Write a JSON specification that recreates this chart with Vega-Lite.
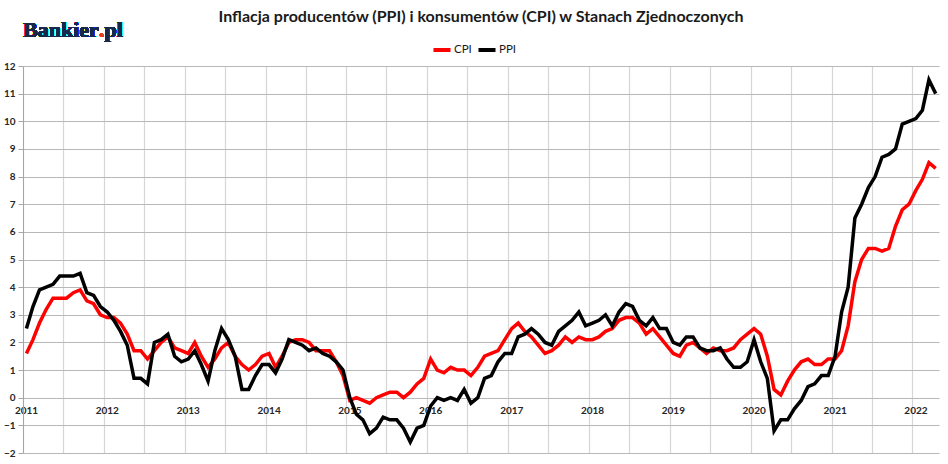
{
  "$schema": "https://vega.github.io/schema/vega-lite/v6.json",
  "width": 916,
  "height": 387,
  "autosize": "none",
  "padding": {"left": 23, "top": 66, "right": 9, "bottom": 11},
  "background": "white",
  "title": {
    "text": "Inflacja producentów (PPI) i konsumentów (CPI) w Stanach Zjednoczonych",
    "font": "Lato", "fontSize": 16, "fontWeight": "bold", "color": "#1a1a1a",
    "anchor": "middle", "frame": "group", "offset": -6
  },
  "data": {
    "values": [
      {"date": "2011-01", "CPI": 1.6, "PPI": 2.5}, {"date": "2011-02", "CPI": 2.1, "PPI": 3.3},
      {"date": "2011-03", "CPI": 2.7, "PPI": 3.9}, {"date": "2011-04", "CPI": 3.2, "PPI": 4.0},
      {"date": "2011-05", "CPI": 3.6, "PPI": 4.1}, {"date": "2011-06", "CPI": 3.6, "PPI": 4.4},
      {"date": "2011-07", "CPI": 3.6, "PPI": 4.4}, {"date": "2011-08", "CPI": 3.8, "PPI": 4.4},
      {"date": "2011-09", "CPI": 3.9, "PPI": 4.5}, {"date": "2011-10", "CPI": 3.5, "PPI": 3.8},
      {"date": "2011-11", "CPI": 3.4, "PPI": 3.7}, {"date": "2011-12", "CPI": 3.0, "PPI": 3.3},
      {"date": "2012-01", "CPI": 2.9, "PPI": 3.1}, {"date": "2012-02", "CPI": 2.9, "PPI": 2.8},
      {"date": "2012-03", "CPI": 2.7, "PPI": 2.4}, {"date": "2012-04", "CPI": 2.3, "PPI": 1.9},
      {"date": "2012-05", "CPI": 1.7, "PPI": 0.7}, {"date": "2012-06", "CPI": 1.7, "PPI": 0.7},
      {"date": "2012-07", "CPI": 1.4, "PPI": 0.5}, {"date": "2012-08", "CPI": 1.7, "PPI": 2.0},
      {"date": "2012-09", "CPI": 2.0, "PPI": 2.1}, {"date": "2012-10", "CPI": 2.2, "PPI": 2.3},
      {"date": "2012-11", "CPI": 1.8, "PPI": 1.5}, {"date": "2012-12", "CPI": 1.7, "PPI": 1.3},
      {"date": "2013-01", "CPI": 1.6, "PPI": 1.4}, {"date": "2013-02", "CPI": 2.0, "PPI": 1.7},
      {"date": "2013-03", "CPI": 1.5, "PPI": 1.2}, {"date": "2013-04", "CPI": 1.1, "PPI": 0.6},
      {"date": "2013-05", "CPI": 1.4, "PPI": 1.7}, {"date": "2013-06", "CPI": 1.8, "PPI": 2.5},
      {"date": "2013-07", "CPI": 2.0, "PPI": 2.1}, {"date": "2013-08", "CPI": 1.5, "PPI": 1.5},
      {"date": "2013-09", "CPI": 1.2, "PPI": 0.3}, {"date": "2013-10", "CPI": 1.0, "PPI": 0.3},
      {"date": "2013-11", "CPI": 1.2, "PPI": 0.8}, {"date": "2013-12", "CPI": 1.5, "PPI": 1.2},
      {"date": "2014-01", "CPI": 1.6, "PPI": 1.2}, {"date": "2014-02", "CPI": 1.1, "PPI": 0.9},
      {"date": "2014-03", "CPI": 1.5, "PPI": 1.4}, {"date": "2014-04", "CPI": 2.0, "PPI": 2.1},
      {"date": "2014-05", "CPI": 2.1, "PPI": 2.0}, {"date": "2014-06", "CPI": 2.1, "PPI": 1.9},
      {"date": "2014-07", "CPI": 2.0, "PPI": 1.7}, {"date": "2014-08", "CPI": 1.7, "PPI": 1.8},
      {"date": "2014-09", "CPI": 1.7, "PPI": 1.6}, {"date": "2014-10", "CPI": 1.7, "PPI": 1.5},
      {"date": "2014-11", "CPI": 1.3, "PPI": 1.3}, {"date": "2014-12", "CPI": 0.8, "PPI": 1.0},
      {"date": "2015-01", "CPI": -0.1, "PPI": 0.0}, {"date": "2015-02", "CPI": 0.0, "PPI": -0.6},
      {"date": "2015-03", "CPI": -0.1, "PPI": -0.8}, {"date": "2015-04", "CPI": -0.2, "PPI": -1.3},
      {"date": "2015-05", "CPI": 0.0, "PPI": -1.1}, {"date": "2015-06", "CPI": 0.1, "PPI": -0.7},
      {"date": "2015-07", "CPI": 0.2, "PPI": -0.8}, {"date": "2015-08", "CPI": 0.2, "PPI": -0.8},
      {"date": "2015-09", "CPI": 0.0, "PPI": -1.1}, {"date": "2015-10", "CPI": 0.2, "PPI": -1.6},
      {"date": "2015-11", "CPI": 0.5, "PPI": -1.1}, {"date": "2015-12", "CPI": 0.7, "PPI": -1.0},
      {"date": "2016-01", "CPI": 1.4, "PPI": -0.3}, {"date": "2016-02", "CPI": 1.0, "PPI": 0.0},
      {"date": "2016-03", "CPI": 0.9, "PPI": -0.1}, {"date": "2016-04", "CPI": 1.1, "PPI": 0.0},
      {"date": "2016-05", "CPI": 1.0, "PPI": -0.1}, {"date": "2016-06", "CPI": 1.0, "PPI": 0.3},
      {"date": "2016-07", "CPI": 0.8, "PPI": -0.2}, {"date": "2016-08", "CPI": 1.1, "PPI": 0.0},
      {"date": "2016-09", "CPI": 1.5, "PPI": 0.7}, {"date": "2016-10", "CPI": 1.6, "PPI": 0.8},
      {"date": "2016-11", "CPI": 1.7, "PPI": 1.3}, {"date": "2016-12", "CPI": 2.1, "PPI": 1.6},
      {"date": "2017-01", "CPI": 2.5, "PPI": 1.6}, {"date": "2017-02", "CPI": 2.7, "PPI": 2.2},
      {"date": "2017-03", "CPI": 2.4, "PPI": 2.3}, {"date": "2017-04", "CPI": 2.2, "PPI": 2.5},
      {"date": "2017-05", "CPI": 1.9, "PPI": 2.3}, {"date": "2017-06", "CPI": 1.6, "PPI": 2.0},
      {"date": "2017-07", "CPI": 1.7, "PPI": 1.9}, {"date": "2017-08", "CPI": 1.9, "PPI": 2.4},
      {"date": "2017-09", "CPI": 2.2, "PPI": 2.6}, {"date": "2017-10", "CPI": 2.0, "PPI": 2.8},
      {"date": "2017-11", "CPI": 2.2, "PPI": 3.1}, {"date": "2017-12", "CPI": 2.1, "PPI": 2.6},
      {"date": "2018-01", "CPI": 2.1, "PPI": 2.7}, {"date": "2018-02", "CPI": 2.2, "PPI": 2.8},
      {"date": "2018-03", "CPI": 2.4, "PPI": 3.0}, {"date": "2018-04", "CPI": 2.5, "PPI": 2.6},
      {"date": "2018-05", "CPI": 2.8, "PPI": 3.1}, {"date": "2018-06", "CPI": 2.9, "PPI": 3.4},
      {"date": "2018-07", "CPI": 2.9, "PPI": 3.3}, {"date": "2018-08", "CPI": 2.7, "PPI": 2.8},
      {"date": "2018-09", "CPI": 2.3, "PPI": 2.6}, {"date": "2018-10", "CPI": 2.5, "PPI": 2.9},
      {"date": "2018-11", "CPI": 2.2, "PPI": 2.5}, {"date": "2018-12", "CPI": 1.9, "PPI": 2.5},
      {"date": "2019-01", "CPI": 1.6, "PPI": 2.0}, {"date": "2019-02", "CPI": 1.5, "PPI": 1.9},
      {"date": "2019-03", "CPI": 1.9, "PPI": 2.2}, {"date": "2019-04", "CPI": 2.0, "PPI": 2.2},
      {"date": "2019-05", "CPI": 1.8, "PPI": 1.8}, {"date": "2019-06", "CPI": 1.6, "PPI": 1.7},
      {"date": "2019-07", "CPI": 1.8, "PPI": 1.7}, {"date": "2019-08", "CPI": 1.7, "PPI": 1.8},
      {"date": "2019-09", "CPI": 1.7, "PPI": 1.4}, {"date": "2019-10", "CPI": 1.8, "PPI": 1.1},
      {"date": "2019-11", "CPI": 2.1, "PPI": 1.1}, {"date": "2019-12", "CPI": 2.3, "PPI": 1.3},
      {"date": "2020-01", "CPI": 2.5, "PPI": 2.1}, {"date": "2020-02", "CPI": 2.3, "PPI": 1.3},
      {"date": "2020-03", "CPI": 1.5, "PPI": 0.7}, {"date": "2020-04", "CPI": 0.3, "PPI": -1.2},
      {"date": "2020-05", "CPI": 0.1, "PPI": -0.8}, {"date": "2020-06", "CPI": 0.6, "PPI": -0.8},
      {"date": "2020-07", "CPI": 1.0, "PPI": -0.4}, {"date": "2020-08", "CPI": 1.3, "PPI": -0.1},
      {"date": "2020-09", "CPI": 1.4, "PPI": 0.4}, {"date": "2020-10", "CPI": 1.2, "PPI": 0.5},
      {"date": "2020-11", "CPI": 1.2, "PPI": 0.8}, {"date": "2020-12", "CPI": 1.4, "PPI": 0.8},
      {"date": "2021-01", "CPI": 1.4, "PPI": 1.5}, {"date": "2021-02", "CPI": 1.7, "PPI": 3.1},
      {"date": "2021-03", "CPI": 2.6, "PPI": 4.0}, {"date": "2021-04", "CPI": 4.2, "PPI": 6.5},
      {"date": "2021-05", "CPI": 5.0, "PPI": 7.0}, {"date": "2021-06", "CPI": 5.4, "PPI": 7.6},
      {"date": "2021-07", "CPI": 5.4, "PPI": 8.0}, {"date": "2021-08", "CPI": 5.3, "PPI": 8.7},
      {"date": "2021-09", "CPI": 5.4, "PPI": 8.8}, {"date": "2021-10", "CPI": 6.2, "PPI": 9.0},
      {"date": "2021-11", "CPI": 6.8, "PPI": 9.9}, {"date": "2021-12", "CPI": 7.0, "PPI": 10.0},
      {"date": "2022-01", "CPI": 7.5, "PPI": 10.1}, {"date": "2022-02", "CPI": 7.9, "PPI": 10.4},
      {"date": "2022-03", "CPI": 8.5, "PPI": 11.5}, {"date": "2022-04", "CPI": 8.3, "PPI": 11.0}
    ]
  },
  "layer": [
    {
      "transform": [{"fold": ["CPI", "PPI"], "as": ["series", "value"]}],
      "mark": {"type": "line", "strokeWidth": 3.5, "clip": true},
      "encoding": {
        "x": {
          "field": "date", "type": "temporal", "timeUnit": "yearmonth", "bandPosition": 0.5,
          "scale": {"domain": [{"year": 2011, "month": 1, "date": 1}, {"year": 2022, "month": 5, "date": 1}]},
          "axis": {
            "title": null,
            "tickCount": {"interval": "month", "step": 6},
            "labelExpr": "month(datum.value) == 0 ? timeFormat(datum.value, '%Y') : ''",
            "labelOverlap": false, "labelFlush": false, "labelOffset": 3, "labelPadding": 7,
            "offset": -55, "domain": false, "ticks": false,
            "grid": true, "gridColor": "#d6d6d6", "gridWidth": 1.2
          }
        },
        "y": {
          "field": "value", "type": "quantitative",
          "scale": {"domain": [-2, 12], "nice": false},
          "axis": {
            "title": null,
            "values": [-2, -1, 0, 1, 2, 3, 4, 5, 6, 7, 8, 9, 10, 11, 12],
            "labelOverlap": false, "gridColor": "#b8b8b8", "gridWidth": 1.2,
            "domainColor": "#a6a6a6", "tickColor": "#a6a6a6", "tickSize": 5, "labelPadding": 3
          }
        },
        "color": {
          "field": "series", "type": "nominal",
          "scale": {"domain": ["CPI", "PPI"], "range": ["#ff0000", "#000000"]},
          "legend": {
            "orient": "none", "legendX": 408, "legendY": -27,
            "direction": "horizontal", "title": null,
            "symbolType": "stroke", "symbolStrokeWidth": 4, "symbolSize": 290,
            "labelFont": "Lato", "labelFontSize": 11.5, "labelColor": "#1a1a1a",
            "labelOffset": 1, "columnPadding": -2, "gridAlign": "none"
          }
        }
      }
    },
    {
      "mark": {"type": "text", "font": "Liberation Serif", "fontWeight": "bold", "fontSize": 22, "color": "#17284a", "align": "left", "baseline": "alphabetic", "clip": false},
      "encoding": {
        "x": {
          "datum": {"year": 2011, "month": 1, "date": 1}, "type": "temporal",
          "axis": {
            "title": null,
            "tickCount": {"interval": "month", "step": 6},
            "labelExpr": "month(datum.value) == 0 ? timeFormat(datum.value, '%Y') : ''",
            "labelOverlap": false, "labelFlush": false, "labelOffset": 3, "labelPadding": 7,
            "offset": -55, "domain": false, "ticks": false,
            "grid": true, "gridColor": "#d6d6d6", "gridWidth": 1.2
          }
        },
        "y": {
          "datum": 13.05, "type": "quantitative",
          "axis": {
            "title": null,
            "values": [-2, -1, 0, 1, 2, 3, 4, 5, 6, 7, 8, 9, 10, 11, 12],
            "labelOverlap": false, "gridColor": "#b8b8b8", "gridWidth": 1.2,
            "domainColor": "#a6a6a6", "tickColor": "#a6a6a6", "tickSize": 5, "labelPadding": 3
          }
        },
        "text": {"value": "Bankier"}
      }
    },
    {
      "mark": {"type": "text", "font": "Liberation Serif", "fontWeight": "bold", "fontSize": 22, "color": "#e8401c", "align": "left", "baseline": "alphabetic", "dx": 76, "clip": false},
      "encoding": {
        "x": {
          "datum": {"year": 2011, "month": 1, "date": 1}, "type": "temporal",
          "axis": {
            "title": null,
            "tickCount": {"interval": "month", "step": 6},
            "labelExpr": "month(datum.value) == 0 ? timeFormat(datum.value, '%Y') : ''",
            "labelOverlap": false, "labelFlush": false, "labelOffset": 3, "labelPadding": 7,
            "offset": -55, "domain": false, "ticks": false,
            "grid": true, "gridColor": "#d6d6d6", "gridWidth": 1.2
          }
        },
        "y": {
          "datum": 13.05, "type": "quantitative",
          "axis": {
            "title": null,
            "values": [-2, -1, 0, 1, 2, 3, 4, 5, 6, 7, 8, 9, 10, 11, 12],
            "labelOverlap": false, "gridColor": "#b8b8b8", "gridWidth": 1.2,
            "domainColor": "#a6a6a6", "tickColor": "#a6a6a6", "tickSize": 5, "labelPadding": 3
          }
        },
        "text": {"value": "."}
      }
    },
    {
      "mark": {"type": "text", "font": "Liberation Serif", "fontWeight": "bold", "fontSize": 22, "color": "#17284a", "align": "left", "baseline": "alphabetic", "dx": 81.5, "clip": false},
      "encoding": {
        "x": {
          "datum": {"year": 2011, "month": 1, "date": 1}, "type": "temporal",
          "axis": {
            "title": null,
            "tickCount": {"interval": "month", "step": 6},
            "labelExpr": "month(datum.value) == 0 ? timeFormat(datum.value, '%Y') : ''",
            "labelOverlap": false, "labelFlush": false, "labelOffset": 3, "labelPadding": 7,
            "offset": -55, "domain": false, "ticks": false,
            "grid": true, "gridColor": "#d6d6d6", "gridWidth": 1.2
          }
        },
        "y": {
          "datum": 13.05, "type": "quantitative",
          "axis": {
            "title": null,
            "values": [-2, -1, 0, 1, 2, 3, 4, 5, 6, 7, 8, 9, 10, 11, 12],
            "labelOverlap": false, "gridColor": "#b8b8b8", "gridWidth": 1.2,
            "domainColor": "#a6a6a6", "tickColor": "#a6a6a6", "tickSize": 5, "labelPadding": 3
          }
        },
        "text": {"value": "pl"}
      }
    }
  ],
  "config": {
    "view": {"stroke": null},
    "axis": {"labelFont": "Lato", "labelFontWeight": "bold", "labelFontSize": 10, "labelColor": "#262626"}
  }
}
